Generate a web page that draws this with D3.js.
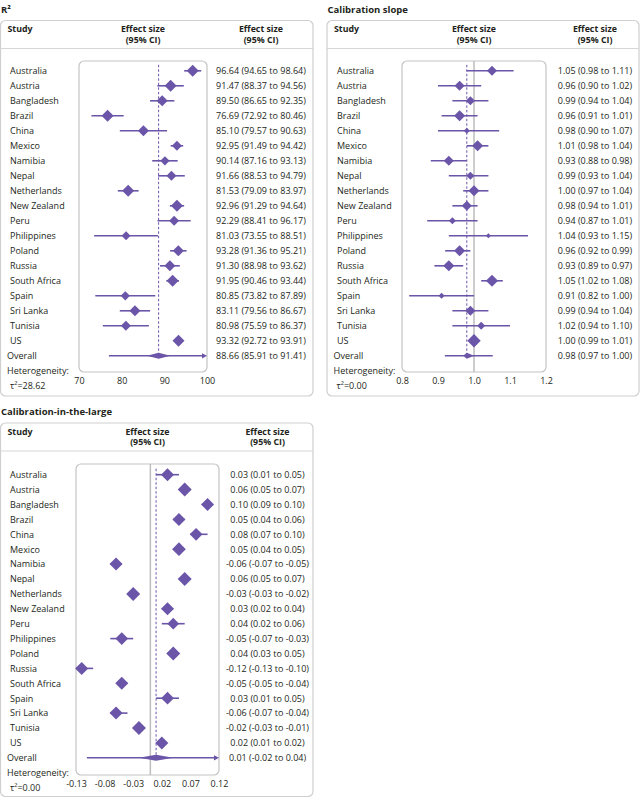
<!DOCTYPE html>
<html><head><meta charset="utf-8">
<script src="https://cdn.jsdelivr.net/npm/d3@7"></script>
<style>
body{margin:0;background:#fff;}
svg{display:block;font-family:"Open Sans",sans-serif;}
</style></head><body>
<svg id="chart" width="640" height="799"></svg>
<script>
// ---------- DATA ----------
const countries = ["Australia","Austria","Bangladesh","Brazil","China","Mexico","Namibia","Nepal","Netherlands","New Zealand","Peru","Philippines","Poland","Russia","South Africa","Spain","Sri Lanka","Tunisia","US"];

// R²
const r2Est  = [96.64,91.47,89.50,76.69,85.10,92.95,90.14,91.66,81.53,92.96,92.29,81.03,93.28,91.30,91.95,80.85,83.11,80.98,93.32];
const r2Low  = [94.65,88.37,86.65,72.92,79.57,91.49,87.16,88.53,79.09,91.29,88.41,73.55,91.36,88.98,90.46,73.82,79.56,75.59,92.72];
const r2High = [98.64,94.56,92.35,80.46,90.63,94.42,93.13,94.79,83.97,94.64,96.17,88.51,95.21,93.62,93.44,87.89,86.67,86.37,93.91];
const r2Weight = [6.35,6.35,5.34,6.35,5.34,4.41,3.80,4.41,6.35,6.35,4.41,3.57,5.34,5.34,6.35,3.80,5.34,4.41,6.35];
const r2Overall = [88.66, 85.91, 91.41];       // estimate, low, high
const r2Prediction = [77.0, 100.32];
const r2Tau2 = "28.62";
const r2Ticks = [70, 80, 90, 100];

// Calibration slope
const slopeEst  = [1.05,0.96,0.99,0.96,0.98,1.01,0.93,0.99,1.00,0.98,0.94,1.04,0.96,0.93,1.05,0.91,0.99,1.02,1.00];
const slopeLow  = [0.98,0.90,0.94,0.91,0.90,0.98,0.88,0.93,0.97,0.94,0.87,0.93,0.92,0.89,1.02,0.82,0.94,0.94,0.99];
const slopeHigh = [1.11,1.02,1.04,1.01,1.07,1.04,0.98,1.04,1.04,1.01,1.01,1.15,0.99,0.97,1.08,1.00,1.04,1.10,1.01];
const slopeWeight = [5.61,5.61,4.55,6.79,2.02,6.79,5.61,3.59,6.79,5.61,2.75,1.40,6.79,6.79,8.09,2.02,5.61,3.59,9.94];
const slopeOverall = [0.98, 0.97, 1.00];
const slopePrediction = [0.919, 1.052];
const slopeTau2 = "0.00";
const slopeTicks = [0.8, 0.9, 1.0, 1.1, 1.2];

// Calibration-in-the-large
const citlEst  = [0.03,0.06,0.10,0.05,0.08,0.05,-0.06,0.06,-0.03,0.03,0.04,-0.05,0.04,-0.12,-0.05,0.03,-0.06,-0.02,0.02];
const citlLow  = [0.01,0.05,0.09,0.04,0.07,0.04,-0.07,0.05,-0.03,0.02,0.02,-0.07,0.03,-0.13,-0.05,0.01,-0.07,-0.03,0.01];
const citlHigh = [0.05,0.07,0.10,0.06,0.10,0.05,-0.05,0.07,-0.02,0.04,0.06,-0.03,0.05,-0.10,-0.04,0.05,-0.04,-0.01,0.02];
const citlWeight = [5.11,5.92,5.11,5.11,4.87,5.68,5.11,5.92,5.92,5.11,4.14,4.87,5.92,5.11,5.11,4.87,5.11,5.92,5.11];
const citlOverall = [0.01, -0.02, 0.04];
const citlPrediction = [-0.111, 0.131];
const citlTau2 = "0.00";
const citlTicks = [-0.13, -0.08, -0.03, 0.02, 0.07, 0.12];

// ---------- DRAWING ----------
const svg = d3.select("#chart");
const purple = "#6b55a8";
const ink = "#231f20";
const loc = d3.formatLocale({decimal: ".", thousands: ",", grouping: [3], currency: ["", ""], minus: "-"});
const f2 = loc.format(".2f");

function panel(cfg) {
  const g = svg.append("g");
  const n = cfg.est.length;
  const x = d3.scaleLinear().domain(cfg.domain).range([cfg.inner.x, cfg.inner.x + cfg.inner.w]);
  const y = d3.scaleLinear().domain([0, 1]).range([cfg.row0, cfg.row0 + cfg.step]);
  const half = d3.scaleSqrt().domain([0, d3.max(cfg.weight)]).range([0, cfg.maxHalf]);
  const o = cfg.outer;

  // title
  g.append("text").attr("x", o.x + 0.5).attr("y", o.y - 8)
    .attr("font-size", 9.5).attr("font-weight", "bold").attr("fill", ink).text(cfg.title);

  // outer box + header rule
  g.append("rect").attr("x", o.x).attr("y", o.y).attr("width", o.w).attr("height", o.h)
    .attr("rx", 5).attr("fill", "none").attr("stroke", "#cfcfcf").attr("stroke-width", 1.2);
  g.append("line").attr("x1", o.x).attr("x2", o.x + o.w).attr("y1", o.y + 28).attr("y2", o.y + 28)
    .attr("stroke", "#d6d6d6").attr("stroke-width", 1);

  // headers
  const hdr = g.append("g").attr("font-size", 8.8).attr("font-weight", "bold").attr("fill", ink);
  hdr.append("text").attr("x", o.x + 7).attr("y", o.y + 11.5).text("Study");
  const plotCenter = cfg.inner.x + cfg.inner.w / 2;
  [plotCenter, cfg.valueX].forEach(cx => {
    hdr.append("text").attr("x", cx).attr("y", o.y + 11.5).attr("text-anchor", "middle").text("Effect size");
    hdr.append("text").attr("x", cx).attr("y", o.y + 22).attr("text-anchor", "middle").text("(95% CI)");
  });

  // inner plot box
  const iy0 = cfg.inner.y, iy1 = cfg.inner.y + cfg.inner.h;
  g.append("rect").attr("x", cfg.inner.x).attr("y", iy0).attr("width", cfg.inner.w).attr("height", cfg.inner.h)
    .attr("rx", 5).attr("fill", "none").attr("stroke", "#c4c4c4").attr("stroke-width", 1.2);

  // null line
  if (cfg.nullValue !== null) {
    g.append("line").attr("x1", x(cfg.nullValue)).attr("x2", x(cfg.nullValue))
      .attr("y1", iy0).attr("y2", iy1).attr("stroke", "#bdbdbd").attr("stroke-width", 1.5);
  }
  // overall dashed line
  g.append("line").attr("x1", x(cfg.overall[0])).attr("x2", x(cfg.overall[0]))
    .attr("y1", y(0) - 6).attr("y2", y(n))
    .attr("stroke", purple).attr("stroke-width", 1).attr("stroke-dasharray", "2.5,2");

  // rows
  const rows = g.append("g");
  const data = cfg.est.map((e, i) => ({name: countries[i], e, lo: cfg.low[i], hi: cfg.high[i], w: cfg.weight[i], i}));
  rows.selectAll("line.ci").data(data).join("line").attr("class", "ci")
    .attr("x1", d => x(d.lo)).attr("x2", d => x(d.hi))
    .attr("y1", d => y(d.i)).attr("y2", d => y(d.i))
    .attr("stroke", purple).attr("stroke-width", 1.6);
  rows.selectAll("path.dia").data(data).join("path").attr("class", "dia")
    .attr("d", d => {
      const cx = x(d.e), cy = y(d.i), h = half(d.w);
      return `M${cx - h},${cy}L${cx},${cy - h}L${cx + h},${cy}L${cx},${cy + h}Z`;
    })
    .attr("fill", purple);
  rows.selectAll("text.name").data(data).join("text").attr("class", "name")
    .attr("x", cfg.labelX).attr("y", d => y(d.i) + 3.3)
    .attr("font-size", 9).attr("fill", ink).text(d => d.name);
  rows.selectAll("text.val").data(data).join("text").attr("class", "val")
    .attr("x", cfg.valueX).attr("y", d => y(d.i) + 3.3).attr("text-anchor", "middle")
    .attr("font-size", 9).attr("fill", ink)
    .text(d => `${cfg.fmt(d.e)} (${cfg.fmt(d.lo)} to ${cfg.fmt(d.hi)})`);

  // overall row
  const oy = y(n);
  const [dmin, dmax] = cfg.domain;
  const pL = Math.max(cfg.pred[0], dmin), pH = Math.min(cfg.pred[1], dmax);
  g.append("line").attr("x1", x(pL)).attr("x2", cfg.pred[1] > dmax ? x(dmax) - 4 : x(pH))
    .attr("y1", oy).attr("y2", oy).attr("stroke", purple).attr("stroke-width", 1.5);
  if (cfg.pred[1] > dmax) {
    const xr = x(dmax);
    g.append("path").attr("d", `M${xr},${oy}L${xr - 5},${oy - 2.6}L${xr - 5},${oy + 2.6}Z`).attr("fill", purple);
  }
  const [oe, ol, oh] = cfg.overall;
  g.append("path")
    .attr("d", `M${x(ol)},${oy}L${x(oe)},${oy - 3}L${x(oh)},${oy}L${x(oe)},${oy + 3}Z`)
    .attr("fill", purple);
  g.append("text").attr("x", o.x + 6.5).attr("y", oy + 3.3).attr("font-size", 9).attr("fill", ink).text("Overall");
  g.append("text").attr("x", cfg.valueX).attr("y", oy + 3.3).attr("text-anchor", "middle")
    .attr("font-size", 9).attr("fill", ink)
    .text(`${cfg.fmt(oe)} (${cfg.fmt(ol)} to ${cfg.fmt(oh)})`);
  g.append("text").attr("x", o.x + 6.5).attr("y", oy + 18).attr("font-size", 9).attr("fill", ink).text("Heterogeneity:");
  g.append("text").attr("x", o.x + 9.5).attr("y", oy + 33).attr("font-size", 9).attr("fill", ink).text("τ²=" + cfg.tau2);

  // axis
  const ax = g.append("g").attr("transform", `translate(0,${iy1})`)
    .call(d3.axisBottom(x).tickValues(cfg.ticks).tickSize(0).tickPadding(5.5).tickFormat(cfg.tickFmt));
  ax.select(".domain").remove();
  ax.selectAll("text").attr("font-size", 9).attr("fill", ink).attr("font-family", "Open Sans, sans-serif");
}

panel({
  title: "R²", est: r2Est, low: r2Low, high: r2High, weight: r2Weight,
  overall: r2Overall, pred: r2Prediction, tau2: r2Tau2, ticks: r2Ticks,
  domain: [70, 100], nullValue: null, fmt: f2, tickFmt: loc.format("d"),
  outer: {x: 0.5, y: 20.5, w: 312.5, h: 375.5},
  inner: {x: 79, y: 61, w: 128, h: 311},
  row0: 70.8, step: 15, labelX: 10, valueX: 261, maxHalf: 6
});
panel({
  title: "Calibration slope", est: slopeEst, low: slopeLow, high: slopeHigh, weight: slopeWeight,
  overall: slopeOverall, pred: slopePrediction, tau2: slopeTau2, ticks: slopeTicks,
  domain: [0.8, 1.2], nullValue: 1, fmt: f2, tickFmt: loc.format(".1f"),
  outer: {x: 327, y: 20.5, w: 312, h: 375.5},
  inner: {x: 402, y: 61, w: 144, h: 311},
  row0: 70.8, step: 15, labelX: 337, valueX: 595, maxHalf: 6.7
});
panel({
  title: "Calibration-in-the-large", est: citlEst, low: citlLow, high: citlHigh, weight: citlWeight,
  overall: citlOverall, pred: citlPrediction, tau2: citlTau2, ticks: citlTicks,
  domain: [-0.13, 0.12], nullValue: 0, fmt: f2, tickFmt: loc.format(".2f"),
  outer: {x: 0.5, y: 423, w: 312.5, h: 373.5},
  inner: {x: 76, y: 464, w: 143, h: 311},
  row0: 474.7, step: 14.9, labelX: 10, valueX: 267.5, maxHalf: 7
});
</script>
</body></html>
